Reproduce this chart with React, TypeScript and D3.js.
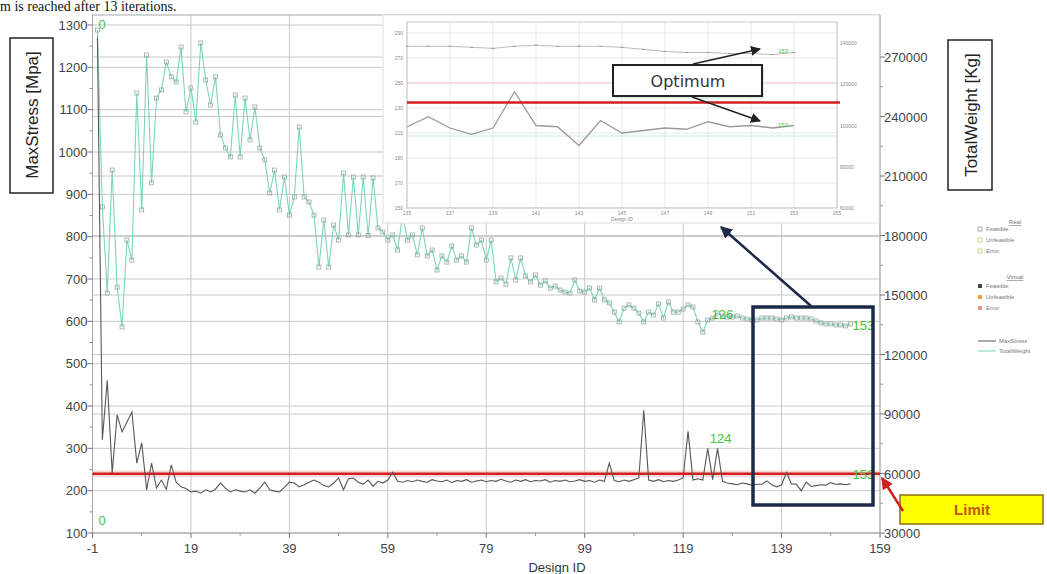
import React from 'react';
import * as d3 from 'd3';

// MaxStress [Mpa] per design (design ID = index)
const maxStress = [
  1270, 320, 461, 242, 379, 339, 362, 386, 265, 313,
  202, 265, 206, 225, 203, 261, 220, 209, 205, 197,
  199, 194, 202, 197, 204, 218, 206, 197, 202, 199,
  197, 202, 194, 206, 220, 202, 199, 197, 208, 220,
  218, 209, 214, 220, 225, 220, 212, 209, 218, 230,
  202, 228, 230, 220, 215, 225, 210, 222, 218, 225,
  244, 222, 220, 224, 221, 225, 222, 220, 226, 223,
  221, 225, 219, 224, 222, 226, 220, 223, 225, 221,
  224, 222, 227, 223, 220, 225, 222, 226, 221, 224,
  223, 226, 220, 224, 222, 225, 221, 223, 226, 222,
  224, 220, 225, 222, 265, 224, 221, 225, 222, 226,
  230, 390, 225, 222, 226, 221, 224, 222, 225, 230,
  340, 225, 228, 225, 300, 226, 300, 222, 218, 216,
  214, 218, 216, 213, 215, 215, 223, 214, 209, 214,
  243, 216, 215, 200, 220, 210, 212, 214, 213, 219,
  215, 216, 214, 216,
];

// TotalWeight [Kg] per design
const totalWeight = [
  283600, 194400, 151000, 213000, 154000, 133900, 177700, 167600, 251800, 192900,
  271000, 206500, 249300, 253400, 267500, 260000, 257400, 275000, 242300, 254400,
  237200, 277100, 258400, 245800, 260000, 230700, 224100, 219600, 250800, 219600,
  249300, 228200, 244800, 224100, 218100, 201400, 213000, 192900, 209500, 190300,
  199400, 234700, 199400, 196900, 190300, 164100, 187800, 164100, 185300, 177700,
  211500, 180300, 209500, 180300, 209500, 180000, 209000, 183800, 181800, 177700,
  180300, 172700, 190300, 177700, 180300, 170200, 183800, 169700, 172700, 162600,
  169700, 166600, 174700, 167600, 169700, 166600, 183800, 175200, 177700, 167600,
  177700, 156600, 158600, 155500, 168700, 157600, 168700, 159600, 156600, 160100,
  155000, 157100, 153500, 154500, 152500, 151500, 151000, 157600, 152000, 151500,
  153500, 147500, 153500, 147500, 146000, 141400, 136400, 143400, 145000, 143400,
  140900, 136400, 141400, 139900, 145500, 138400, 146500, 141400, 141400, 142900,
  145000, 144000, 136400, 131300, 137400, 138400, 140900, 139400, 138900, 138900,
  139400, 138400, 137900, 137400, 137400, 138400, 138400, 138400, 137900, 137400,
  138400, 138900, 138400, 138400, 138400, 137900, 136900, 135900, 135400, 135400,
  134900, 134900, 134400, 135400,
];

const stressLimit = 240;
const xTickValues = [-1, 19, 39, 59, 79, 99, 119, 139, 159];
const stressTickValues = [100, 200, 300, 400, 500, 600, 700, 800, 900, 1000, 1100, 1200, 1300];
const weightTickValues = [30000, 60000, 90000, 120000, 150000, 180000, 210000, 240000, 270000];

// labelled designs: [design id, series]
const labelledDesigns: [number, 'w' | 's'][] = [
  [0, 'w'], [126, 'w'], [153, 'w'], [124, 's'], [153, 's'],
];

// zoomed view of the last designs
const insetFirstId = 135;
const insetXTickValues = [135, 137, 139, 141, 143, 145, 147, 149, 151, 153, 155];
const insetStressTickValues = [150, 170, 190, 210, 230, 250, 270, 290];
const insetWeightTickValues = [60000, 80000, 100000, 120000, 140000];

const legendReal = ['Feasible', 'Unfeasible', 'Error'];
const legendVirtual = ['Feasible', 'Unfeasible', 'Error'];
const legendSeries = ['MaxStress', 'TotalWeight'];

const STRESS_COLOR = '#575757';
const WEIGHT_COLOR = '#78d6bc';
const GRID = '#c9c9c9';
const LABEL_GREEN = '#3fc43f';
const NAVY = '#1c2a48';
const RED = '#d21f1f';

export default function App() {
  const W = 1047, H = 574;
  const left = 92.5, right = 880, top = 15, bottom = 533;

  const x = d3.scaleLinear().domain([-1, 159]).range([left, right]);
  const yS = d3.scaleLinear().domain([100, 1300]).range([bottom, 25]);
  const yW = d3.scaleLinear().domain([30000, 270000]).range([bottom, 57]);

  const ids = maxStress.map((_, i) => i);
  const stressPath = d3.line<number>().x(i => x(i)).y(i => yS(maxStress[i]))(ids) || '';
  const weightPath = d3.line<number>().x(i => x(i)).y(i => yW(totalWeight[i]))(ids) || '';

  const minorStress = d3.range(150, 1300, 100);
  const minorWeight = d3.range(45000, 285000, 30000);
  const minorX = d3.range(9, 159, 20);

  // inset geometry
  const ix0 = 383, iy0 = 15, ix1 = 879, iy1 = 223;
  const ix = d3.scaleLinear().domain([135, 155]).range([407, 837]);
  const iyS = d3.scaleLinear().domain([150, 290]).range([208, 33]);
  const iyW = d3.scaleLinear().domain([60000, 140000]).range([208, 43]);
  const insetIds = ids.filter(i => i >= insetFirstId);
  const insetStressPath = d3.line<number>().x(i => ix(i)).y(i => iyS(maxStress[i]))(insetIds) || '';
  const insetWeightPath = d3.line<number>().x(i => ix(i)).y(i => iyW(totalWeight[i]))(insetIds) || '';
  const lastId = ids[ids.length - 1];

  const tickFont = "'Liberation Sans', Arial, sans-serif";

  return (
    <svg width={W} height={H} style={{ position: 'absolute', left: 0, top: 0, background: '#fff' }}
      fontFamily={tickFont}>
      <defs>
        <clipPath id="plotClip">
          <rect x={left} y={top} width={right - left} height={bottom - top} />
        </clipPath>
        <marker id="arrowNavy" viewBox="0 0 10 10" refX="9" refY="5" markerWidth="12" markerHeight="12"
          markerUnits="userSpaceOnUse" orient="auto">
          <path d="M0,0 L10,5 L0,10 z" fill={NAVY} />
        </marker>
        <marker id="arrowBlack" viewBox="0 0 10 10" refX="9" refY="5" markerWidth="10" markerHeight="10"
          markerUnits="userSpaceOnUse" orient="auto">
          <path d="M0,0 L10,5 L0,10 z" fill="#222" />
        </marker>
        <marker id="arrowRed" viewBox="0 0 10 10" refX="9" refY="5" markerWidth="12" markerHeight="12"
          markerUnits="userSpaceOnUse" orient="auto">
          <path d="M0,0 L10,5 L0,10 z" fill={RED} />
        </marker>
      </defs>

      <rect x={0} y={0} width={W} height={H} fill="#fff" />

      {/* caption line above the chart */}
      <text x={0} y={11} fontFamily="'Liberation Serif', 'Times New Roman', serif" fontSize={14} fill="#111">
        m is reached after 13 iterations.
      </text>

      {/* gridlines */}
      <g stroke={GRID} strokeWidth={1}>
        {stressTickValues.map(v => (
          <line key={'gs' + v} x1={left} x2={right} y1={yS(v)} y2={yS(v)} />
        ))}
        {weightTickValues.map(v => (
          <line key={'gw' + v} x1={left} x2={right} y1={yW(v)} y2={yW(v)} />
        ))}
        {xTickValues.map(v => (
          <line key={'gx' + v} x1={x(v)} x2={x(v)} y1={top} y2={bottom} />
        ))}
      </g>

      {/* plot frame */}
      <rect x={left} y={top} width={right - left} height={bottom - top} fill="none" stroke="#a8a8a8" strokeWidth={1} />

      {/* limit line */}
      <line x1={left} x2={right} y1={yS(stressLimit)} y2={yS(stressLimit)} stroke="#f4b0b0" strokeWidth={7} opacity={0.45} />
      <line x1={left} x2={right} y1={yS(stressLimit)} y2={yS(stressLimit)} stroke={RED} strokeWidth={2.6} />

      {/* series */}
      <g clipPath="url(#plotClip)">
        <path d={weightPath} fill="none" stroke={WEIGHT_COLOR} strokeWidth={1.1} />
        {ids.map(i => (
          <rect key={'mw' + i} x={x(i) - 2} y={yW(totalWeight[i]) - 2} width={4} height={4}
            fill="none" stroke="#8f9c97" strokeWidth={0.7} />
        ))}
        <path d={stressPath} fill="none" stroke={STRESS_COLOR} strokeWidth={1.1} />
      </g>

      {/* left axis */}
      <g>
        {stressTickValues.map(v => (
          <g key={'ls' + v}>
            <line x1={left - 5} x2={left} y1={yS(v)} y2={yS(v)} stroke="#777" />
            <text x={left - 5} y={yS(v) + 4.5} textAnchor="end" fontSize={13} fill="#444">{v}</text>
          </g>
        ))}
        {minorStress.map(v => (
          <line key={'lm' + v} x1={left - 3} x2={left} y1={yS(v)} y2={yS(v)} stroke="#999" />
        ))}
      </g>

      {/* right axis */}
      <g>
        {weightTickValues.map(v => (
          <g key={'rw' + v}>
            <line x1={right} x2={right + 5} y1={yW(v)} y2={yW(v)} stroke="#777" />
            <text x={right + 4} y={yW(v) + 5} fontSize={13} fill="#444">{v}</text>
          </g>
        ))}
        {minorWeight.map(v => (
          <line key={'rm' + v} x1={right} x2={right + 3} y1={yW(v)} y2={yW(v)} stroke="#999" />
        ))}
      </g>

      {/* bottom axis */}
      <g>
        {xTickValues.map(v => (
          <g key={'bx' + v}>
            <line x1={x(v)} x2={x(v)} y1={bottom} y2={bottom + 5} stroke="#777" />
            <text x={x(v)} y={bottom + 20} textAnchor="middle" fontSize={13} fill="#444">{v}</text>
          </g>
        ))}
        {minorX.map(v => (
          <line key={'bm' + v} x1={x(v)} x2={x(v)} y1={bottom} y2={bottom + 3} stroke="#999" />
        ))}
        <text x={557} y={572} textAnchor="middle" fontSize={13} fill="#333">Design ID</text>
      </g>

      {/* design labels */}
      {labelledDesigns.map(([id, s]) => {
        const px = x(id);
        const py = s === 'w' ? yW(totalWeight[id]) : yS(maxStress[id]);
        const dx = id === 0 ? 1 : id === 126 ? -6 : 2;
        const dy = s === 'w' ? (id === 0 ? -1 : 6) : -5;
        return (
          <text key={'lab' + id + s} x={px + dx} y={py + dy} fontSize={13} fill={LABEL_GREEN}>{id}</text>
        );
      })}
      <text x={x(0) + 1} y={yS(100) - 8} fontSize={13} fill={LABEL_GREEN}>0</text>

      {/* axis titles in boxes */}
      <g>
        <rect x={10} y={38} width={43} height={155} fill="#fff" stroke="#222" strokeWidth={1.5} />
        <text transform={`translate(38,115) rotate(-90)`} textAnchor="middle" fontSize={17}
          fontFamily="'Liberation Sans Narrow', 'Arial Narrow', sans-serif" fill="#222">MaxStress [Mpa]</text>
        <rect x={948} y={40} width={44} height={150} fill="#fff" stroke="#222" strokeWidth={1.5} />
        <text transform={`translate(977,115) rotate(-90)`} textAnchor="middle" fontSize={17}
          fontFamily="'Liberation Sans Narrow', 'Arial Narrow', sans-serif" fill="#222">TotalWeight [Kg]</text>
      </g>

      {/* legend */}
      <g fontSize={6} fill="#777">
        <text x={1015} y={224} textAnchor="middle" textDecoration="underline">Real</text>
        {legendReal.map((t, k) => (
          <g key={'lr' + t}>
            <rect x={978} y={231 + k * 11 - 4} width={4} height={4} fill="none"
              stroke={['#999', '#d8c070', '#b8d070'][k]} strokeWidth={0.8} />
            <text x={986} y={231 + k * 11}>{t}</text>
          </g>
        ))}
        <text x={1015} y={279} textAnchor="middle" textDecoration="underline">Virtual</text>
        {legendVirtual.map((t, k) => (
          <g key={'lv' + t}>
            <rect x={978} y={288 + k * 11 - 4} width={4} height={4} fill={['#444', '#f0a040', '#e89090'][k]} />
            <text x={986} y={288 + k * 11}>{t}</text>
          </g>
        ))}
        {legendSeries.map((t, k) => (
          <g key={'ls' + t}>
            <line x1={978} x2={996} y1={341 + k * 10} y2={341 + k * 10}
              stroke={k === 0 ? STRESS_COLOR : WEIGHT_COLOR} strokeWidth={1} />
            <text x={999} y={343 + k * 10}>{t}</text>
          </g>
        ))}
      </g>

      {/* inset: last designs */}
      <g>
        <rect x={ix0} y={iy0} width={ix1 - ix0} height={iy1 - iy0} fill="#fff" stroke="#e0e0e0" />
        <g stroke="#e2e2e2" strokeWidth={0.8}>
          {insetXTickValues.map(v => (
            <line key={'ig' + v} x1={ix(v)} x2={ix(v)} y1={22} y2={208} />
          ))}
          {insetStressTickValues.map(v => (
            <line key={'igs' + v} x1={407} x2={837} y1={iyS(v)} y2={iyS(v)} />
          ))}
        </g>
        <line x1={407} x2={837} y1={iyS(250)} y2={iyS(250)} stroke="#f6c8c8" strokeWidth={1} />
        <line x1={407} x2={837} y1={iyS(210) + 3} y2={iyS(210) + 3} stroke="#cfe9d8" strokeWidth={1} />
        <rect x={407} y={22} width={430} height={186} fill="none" stroke="#bbb" strokeWidth={0.8} />
        {insetXTickValues.map(v => (
          <text key={'ixt' + v} x={ix(v)} y={215} textAnchor="middle" fontSize={5} fill="#888">{v}</text>
        ))}
        {insetStressTickValues.map(v => (
          <text key={'iys' + v} x={403} y={iyS(v) + 2} textAnchor="end" fontSize={5} fill="#888">{v}</text>
        ))}
        {insetWeightTickValues.map(v => (
          <text key={'iyw' + v} x={840} y={iyW(v) + 2} fontSize={5} fill="#888">{v}</text>
        ))}
        <text x={622} y={221} textAnchor="middle" fontSize={5} fill="#888">Design ID</text>
        <path d={insetWeightPath} fill="none" stroke="#aaa" strokeWidth={0.8} />
        {insetIds.map(i => (
          <rect key={'iw' + i} x={ix(i) - 1.5} y={iyW(totalWeight[i]) - 0.5} width={3} height={1} fill="#999" />
        ))}
        <path d={insetStressPath} fill="none" stroke="#9a9a9a" strokeWidth={1.3} />
        <text x={ix(lastId) - 16} y={iyW(totalWeight[lastId]) + 1} fontSize={6} fill={LABEL_GREEN}>{lastId}</text>
        <text x={ix(lastId) - 16} y={iyS(maxStress[lastId]) + 1} fontSize={6} fill={LABEL_GREEN}>{lastId}</text>
        <line x1={407} x2={840} y1={iyS(stressLimit) + 7} y2={iyS(stressLimit) + 7} stroke={RED} strokeWidth={2.6} />

        {/* Optimum callout */}
        <rect x={615} y={68} width={149} height={31} fill="#cfe9d8" opacity={0.7} />
        <rect x={613} y={65} width={149} height={31} fill="#fff" stroke="#222" strokeWidth={2} />
        <text x={688} y={87} textAnchor="middle" fontSize={16} fontFamily="'DejaVu Sans', Verdana, sans-serif" fill="#333">Optimum</text>
        <line x1={693} y1={64} x2={760} y2={49} stroke="#222" strokeWidth={1.5} markerEnd="url(#arrowBlack)" />
        <line x1={692} y1={97} x2={760} y2={121} stroke="#222" strokeWidth={1.5} markerEnd="url(#arrowBlack)" />
      </g>

      {/* highlighted final designs */}
      <rect x={753} y={307} width={120} height={198} fill="none" stroke={NAVY} strokeWidth={3.5} />
      <line x1={811} y1={306} x2={721} y2={227} stroke={NAVY} strokeWidth={2.5} markerEnd="url(#arrowNavy)" />

      {/* limit callout */}
      <rect x={900} y={495} width={143} height={29} fill="#ffff00" stroke="#8a6d1a" strokeWidth={1.5} />
      <text x={972} y={515} textAnchor="middle" fontSize={15} fontWeight="bold" fill="#c0580f"
        fontFamily="'Liberation Sans', Arial, sans-serif">Limit</text>
      <line x1={903} y1={511} x2={882} y2={478} stroke={RED} strokeWidth={2.5} markerEnd="url(#arrowRed)" />
    </svg>
  );
}
